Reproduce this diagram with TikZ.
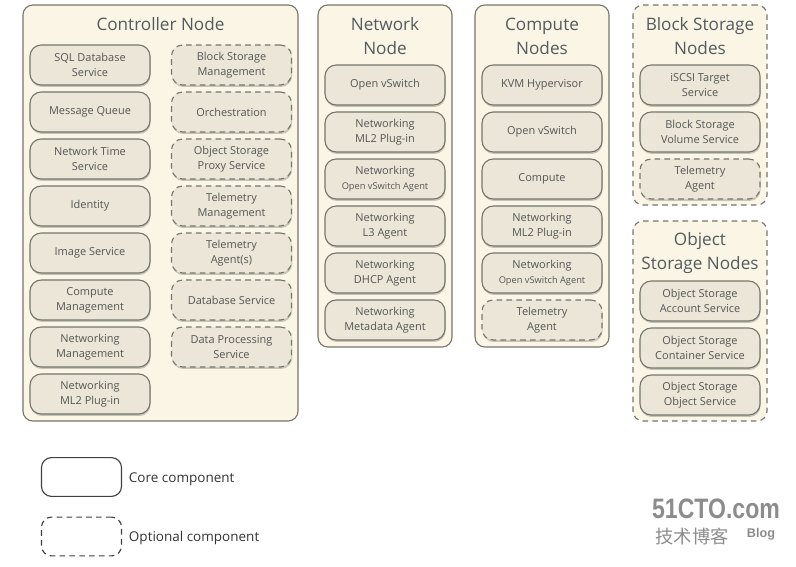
\documentclass[tikz,border=0pt]{standalone}
\usepackage{fontspec}
\setmainfont{Open Sans}
\newfontfamily\cjkfont{Noto Sans CJK SC}
\newfontfamily\wmfont{Liberation Sans}
\usetikzlibrary{shadows}
\definecolor{grpfill}{RGB}{251,245,229}
\definecolor{boxfill}{RGB}{235,230,216}
\definecolor{boxline}{RGB}{118,118,108}
\definecolor{titletxt}{RGB}{84,90,95}
\definecolor{boxtxt}{RGB}{85,85,85}
\newcommand{\agentsize}{\fontsize{6.6}{8}\selectfont}

\begin{document}
\begin{tikzpicture}[x=0.025cm,y=-0.025cm,
      grp/.style={draw=boxline,fill=grpfill,line width=.8pt,rounded corners=.25cm},
      optgrp/.style={grp,dash pattern=on 4pt off 3pt},
      ttl/.style={font=\fontsize{12.2}{17}\selectfont,text=titletxt,align=center},
      core/.style={draw=boxline,fill=boxfill,line width=.8pt,rounded corners=.28cm,
        minimum width=3cm,minimum height=1cm,align=center,text=boxtxt,
        font=\fontsize{7.8}{10.7}\selectfont,
        drop shadow={shadow xshift=.4pt,shadow yshift=-1.4pt,opacity=.35,fill=black!60}},
      opt/.style={core,dash pattern=on 4pt off 3pt},
      leg/.style={draw=black!75,line width=.8pt,rounded corners=.25cm,minimum width=2cm,minimum height=.97cm},
      legtxt/.style={right,font=\fontsize{9.6}{12}\selectfont,text=black!80},
      wm/.style={text=black!45,inner sep=0pt}]
      \useasboundingbox (0,0) rectangle (796,566);
      % groups
      \node[grp,minimum width=6.875cm,minimum height=10.4cm] (ctrl) at (160.5,213) {};
      \node[grp,minimum width=3.35cm,minimum height=8.55cm] (net) at (385,176) {};
      \node[grp,minimum width=3.35cm,minimum height=8.55cm] (comp) at (542,176) {};
      \node[optgrp,minimum width=3.35cm,minimum height=5cm] (blk) at (700,105) {};
      \node[optgrp,minimum width=3.35cm,minimum height=5cm] (obj) at (700,321) {};
      \node[ttl] (ctrl-t) at (160.5,24) {Controller Node};
      \node[ttl] (net-t) at (385,36) {Network\\Node};
      \node[ttl] (comp-t) at (542,36) {Compute\\Nodes};
      \node[ttl] (blk-t) at (700,36) {Block Storage\\Nodes};
      \node[ttl] (obj-t) at (700,253) {Object\\Storage Nodes};
      % controller node
      \node[core] (sql) at (90,65) {SQL Database\\Service};
      \node[core] (mq) at (90,112) {Message Queue};
      \node[core] (ntp) at (90,159) {Network Time\\Service};
      \node[core] (ident) at (90,206) {Identity};
      \node[core] (img) at (90,253) {Image Service};
      \node[core] (cmgmt) at (90,300) {Compute\\Management};
      \node[core] (nmgmt) at (90,347) {Networking\\Management};
      \node[core] (cml2) at (90,394) {Networking\\ML2 Plug-in};
      \node[opt] (bsm) at (231.5,65) {Block Storage\\Management};
      \node[opt] (orch) at (231.5,112) {Orchestration};
      \node[opt] (proxy) at (231.5,159) {Object Storage\\Proxy Service};
      \node[opt] (telm) at (231.5,206) {Telemetry\\Management};
      \node[opt] (tela) at (231.5,253) {Telemetry\\Agent(s)};
      \node[opt] (dbs) at (231.5,300) {Database Service};
      \node[opt] (dps) at (231.5,347) {Data Processing\\Service};
      % network node
      \node[core] (novs) at (385,85) {Open vSwitch};
      \node[core] (nml2) at (385,132) {Networking\\ML2 Plug-in};
      \node[core] (novsa) at (385,179) {Networking\\{\agentsize Open vSwitch Agent}};
      \node[core] (nl3) at (385,226) {Networking\\L3 Agent};
      \node[core] (ndhcp) at (385,273) {Networking\\DHCP Agent};
      \node[core] (nmeta) at (385,320) {Networking\\Metadata Agent};
      % compute nodes
      \node[core] (kvm) at (542,85) {KVM Hypervisor};
      \node[core] (covs) at (542,132) {Open vSwitch};
      \node[core] (cnova) at (542,179) {Compute};
      \node[core] (cnml2) at (542,226) {Networking\\ML2 Plug-in};
      \node[core] (covsa) at (542,273) {Networking\\{\agentsize Open vSwitch Agent}};
      \node[opt] (ctel) at (542,320) {Telemetry\\Agent};
      % block storage nodes
      \node[core] (iscsi) at (700,85) {iSCSI Target\\Service};
      \node[core] (bvol) at (700,132) {Block Storage\\Volume Service};
      \node[opt] (btel) at (700,179) {Telemetry\\Agent};
      % object storage nodes
      \node[core] (oacc) at (700,301) {Object Storage\\Account Service};
      \node[core] (ocont) at (700,348) {Object Storage\\Container Service};
      \node[core] (oobj) at (700,395) {Object Storage\\Object Service};
      % legend
      \node[leg] (leg-core) at (81.5,477) {};
      \node[leg,dash pattern=on 4pt off 3pt] (leg-opt) at (81.5,536.5) {};
      \node[legtxt] (leg-core-t) at (124,479) {Core component};
      \node[legtxt] (leg-opt-t) at (124,538) {Optional component};
      % watermark
      \node[wm,font=\wmfont\bfseries\fontsize{20}{20}\selectfont,xscale=.82] (wm-site) at (716,509) {51CTO.com};
      \node[wm,font=\cjkfont\fontsize{13}{13}\selectfont] (wm-cn) at (692,536) {技术博客};
      \node[wm,font=\wmfont\bfseries\fontsize{9}{9}\selectfont] (wm-blog) at (761,534) {Blog};
    \end{tikzpicture}
\end{document}
